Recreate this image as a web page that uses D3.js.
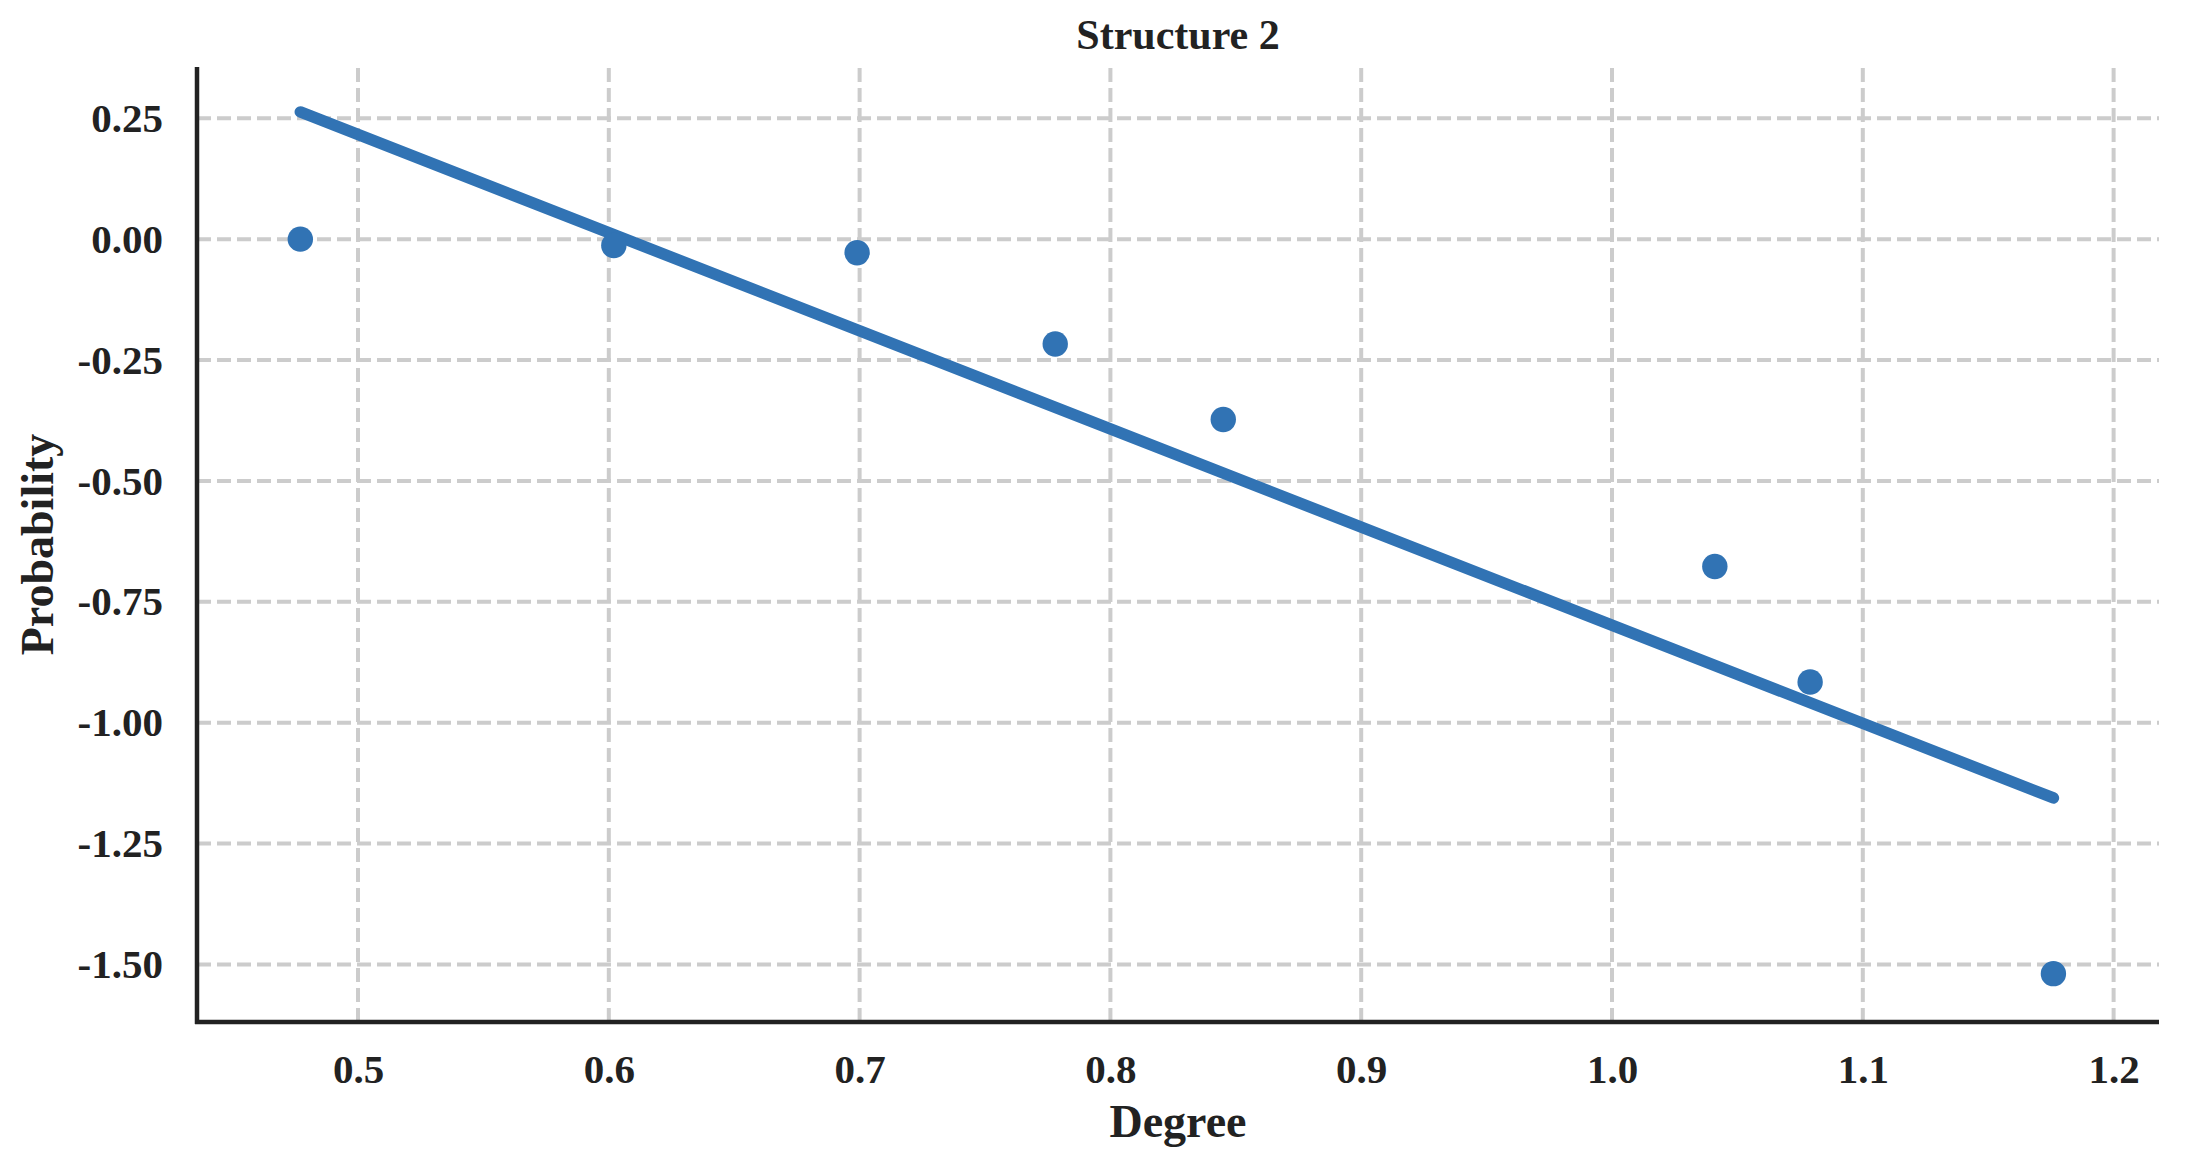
<!DOCTYPE html>
<html>
<head>
<meta charset="utf-8">
<script src="https://cdn.jsdelivr.net/npm/d3@7"></script>
<style>
  body { margin: 0; background: #fff; }
  svg text { font-family: "Liberation Serif", "Times New Roman", serif; font-weight: bold; fill: #222; }
</style>
</head>
<body>
<svg width="2190" height="1175"></svg>
<script>
// log10(degree) vs log10(probability)
var degree = [0.477, 0.602, 0.699, 0.778, 0.845, 1.041, 1.079, 1.176];
var prob = [0.0, -0.013, -0.028, -0.217, -0.373, -0.677, -0.916, -1.519];

var xTicks = [0.5, 0.6, 0.7, 0.8, 0.9, 1.0, 1.1, 1.2];
var yTicks = [0.25, 0.0, -0.25, -0.5, -0.75, -1.0, -1.25, -1.5];

var W = 2190, H = 1175;
var margin = { left: 197, right: 31, top: 67, bottom: 153 };
var w = W - margin.left - margin.right,
  h = H - margin.top - margin.bottom;

var blue = '#3173b4';

var svg = d3.select('svg');
var g = svg.append('g')
  .attr('transform', 'translate(' + margin.left + ',' + margin.top + ')');

var x = d3.scaleLinear()
  .domain([0.4358, 1.2181])
  .range([0, w]);

var y = d3.scaleLinear()
  .domain([-1.619, 0.356])
  .range([h, 0]);

// grid
g.append('g')
  .selectAll('line')
  .data(xTicks)
  .enter()
  .append('line')
  .attr('x1', d => x(d)).attr('x2', d => x(d))
  .attr('y1', h).attr('y2', 0)
  .attr('stroke', '#cccccc')
  .attr('stroke-width', 4)
  .attr('stroke-dasharray', '14,6');

g.append('g')
  .selectAll('line')
  .data(yTicks)
  .enter()
  .append('line')
  .attr('x1', 0).attr('x2', w)
  .attr('y1', d => y(d)).attr('y2', d => y(d))
  .attr('stroke', '#cccccc')
  .attr('stroke-width', 4)
  .attr('stroke-dasharray', '14,6');

// axes (labels only, spines drawn below)
var xAxis = g.append('g')
  .attr('transform', 'translate(0,' + h + ')')
  .call(d3.axisBottom(x).tickValues(xTicks).tickSize(0).tickPadding(32)
    .tickFormat(d => d.toFixed(1)));
var yAxis = g.append('g')
  .call(d3.axisLeft(y).tickValues(yTicks).tickSize(0).tickPadding(34)
    .tickFormat(d => d.toFixed(2)));
xAxis.select('.domain').remove();
yAxis.select('.domain').remove();
svg.selectAll('.tick text')
  .style('font-size', '41px')
  .style('font-family', '"Liberation Serif", "Times New Roman", serif')
  .style('font-weight', 'bold')
  .attr('fill', '#222');

// fitted line (least squares)
var mx = d3.mean(degree), my = d3.mean(prob);
var sxy = d3.sum(degree, (d, i) => (d - mx) * (prob[i] - my));
var sxx = d3.sum(degree, d => (d - mx) * (d - mx));
var slope = sxy / sxx, icpt = my - slope * mx;
var ext = d3.extent(degree);

var line = d3.line()
  .x(d => x(d))
  .y(d => y(slope * d + icpt));

g.append('path')
  .datum(ext)
  .attr('d', line)
  .attr('fill', 'none')
  .attr('stroke', blue)
  .attr('stroke-width', 11.5)
  .attr('stroke-linecap', 'round');

// points
g.append('g')
  .selectAll('circle')
  .data(degree)
  .enter()
  .append('circle')
  .attr('cx', d => x(d))
  .attr('cy', (d, i) => y(prob[i]))
  .attr('r', 12.7)
  .attr('fill', blue);

// spines
g.append('line')
  .attr('x1', 0).attr('x2', 0).attr('y1', 0).attr('y2', h + 2)
  .attr('stroke', '#222').attr('stroke-width', 4.5);
g.append('line')
  .attr('x1', -2).attr('x2', w).attr('y1', h).attr('y2', h)
  .attr('stroke', '#222').attr('stroke-width', 4.5);

// titles
svg.append('text')
  .attr('x', margin.left + w / 2)
  .attr('y', 49)
  .attr('text-anchor', 'middle')
  .style('font-size', '42px')
  .text('Structure 2');

svg.append('text')
  .attr('x', margin.left + w / 2)
  .attr('y', 1137)
  .attr('text-anchor', 'middle')
  .style('font-size', '46px')
  .text('Degree');

svg.append('text')
  .attr('transform', 'translate(53,' + (margin.top + h / 2) + ') rotate(-90)')
  .attr('text-anchor', 'middle')
  .style('font-size', '46px')
  .text('Probability');
</script>
</body>
</html>
